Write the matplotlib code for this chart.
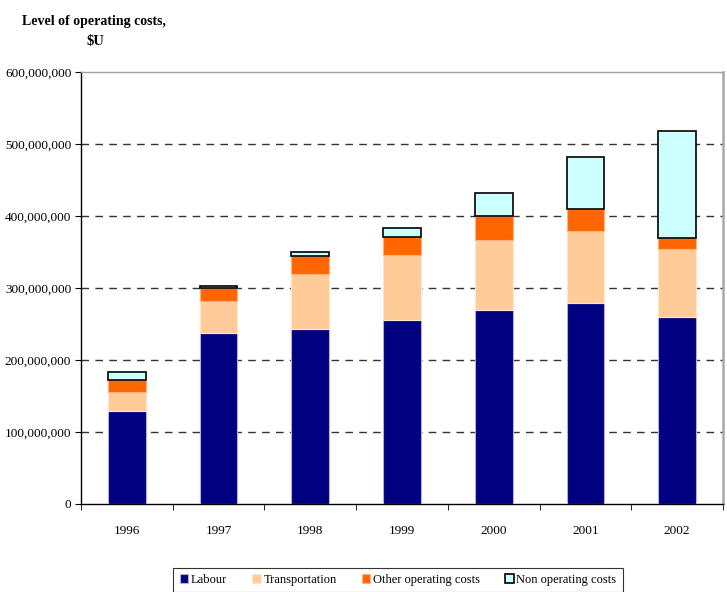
import matplotlib.pyplot as plt
import numpy as np
from matplotlib.ticker import FuncFormatter, MultipleLocator

plt.rcParams['font.family'] = ['Liberation Serif', 'DejaVu Serif']

years = ['1996', '1997', '1998', '1999', '2000', '2001', '2002']
labour = [129e6, 237.5e6, 243e6, 255.5e6, 269.5e6, 279e6, 260e6]
transportation = [26.5e6, 44.5e6, 76.5e6, 90.5e6, 97.5e6, 100e6, 94e6]
other_costs = [16.5e6, 18e6, 24.5e6, 25e6, 33e6, 31e6, 15.5e6]
non_operating = [11e6, 3e6, 6e6, 12e6, 32e6, 72e6, 148.5e6]

series = [
    (labour, 'Labour', '#000080', '#b0b0d8'),
    (transportation, 'Transportation', '#FFCC99', '#ffe6cc'),
    (other_costs, 'Other operating costs', '#FF6600', '#ffb380'),
    (non_operating, 'Non operating costs', '#CCFFFF', '#000000'),
]

fig = plt.figure(figsize=(7.27, 5.92), dpi=100)
ax = fig.add_axes([81 / 727, 88 / 592, 642 / 727, 432 / 592])

x = np.arange(len(years))
bottom = np.zeros(len(years))
for vals, name, color, edge in series:
    vals = np.array(vals)
    lw = 1.2 if edge == '#000000' else 0.8
    ax.bar(x, vals, width=0.41, bottom=bottom, color=color, edgecolor=edge,
           linewidth=lw, label=name, zorder=3)
    bottom += vals

ax.set_xlim(-0.5, len(years) - 0.5)
ax.set_ylim(0, 600e6)
ax.yaxis.set_major_locator(MultipleLocator(100e6))
ax.yaxis.set_major_formatter(FuncFormatter(lambda v, p: f'{int(v):,}'))
for yv in range(1, 6):
    ax.axhline(yv * 100e6, color='#333333', linestyle=(0, (5.5, 4.5)), linewidth=1.0, zorder=1)

ax.set_xticks(x)
ax.set_xticklabels(years)
ax.set_xticks(np.arange(-0.5, len(years), 1.0), minor=True)
ax.tick_params(axis='x', which='major', length=0, pad=15, labelsize=9.5)
ax.tick_params(axis='x', which='minor', length=4, color='black')
ax.tick_params(axis='y', length=4, labelsize=9.5, pad=3)

ax.spines['top'].set_color('#a0a0a0')
ax.spines['top'].set_linewidth(1.0)
ax.spines['right'].set_color('#a8a8a8')
ax.spines['right'].set_linewidth(1.8)
ax.spines['left'].set_linewidth(1.0)
ax.spines['bottom'].set_linewidth(1.0)

fig.text(94 / 727, 1 - 22 / 592, 'Level of operating costs,', ha='center', va='center',
         fontsize=10, fontweight='bold')
fig.text(95 / 727, 1 - 42 / 592, '$U', ha='center', va='center',
         fontsize=10.5, fontweight='bold')

leg = fig.legend(loc='center', bbox_to_anchor=(398 / 727, 1 - 580 / 592), ncol=4,
                 fontsize=9, frameon=True, fancybox=False, edgecolor='black',
                 handlelength=0.7, handleheight=0.7, handletextpad=0.2,
                 columnspacing=2.0, borderpad=0.5)
leg.get_frame().set_linewidth(0.8)

fig.savefig('out.png', dpi=100)
